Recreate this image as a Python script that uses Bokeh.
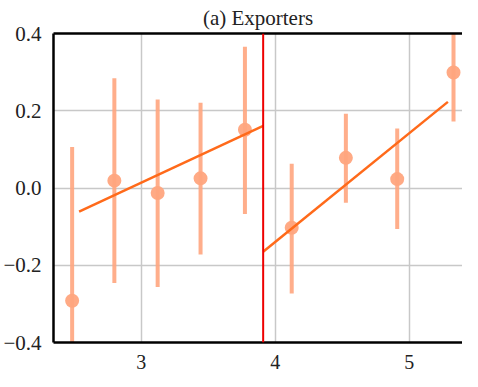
from bokeh.plotting import figure
from bokeh.models import (Range1d, FixedTicker, CustomJSTickFormatter, LinearAxis, Span)
from bokeh.embed import file_html
from bokeh.resources import INLINE

# ---- data ----
bin_x = [2.485, 2.80, 3.123, 3.443, 3.774, 4.123, 4.527, 4.91, 5.33]
est = [-0.292, 0.019, -0.013, 0.025, 0.151, -0.103, 0.078, 0.023, 0.299]
ci_lo = [-0.69, -0.246, -0.256, -0.172, -0.067, -0.273, -0.038, -0.106, 0.172]
ci_hi = [0.106, 0.284, 0.229, 0.221, 0.366, 0.063, 0.192, 0.154, 0.426]
fit_left_x = [2.537, 3.91]
fit_left_y = [-0.061, 0.161]
fit_right_x = [3.91, 5.288]
fit_right_y = [-0.165, 0.223]
cutoff = 3.91
x_ticks = [3, 4, 5]
y_ticks = [-0.4, -0.2, 0.0, 0.2, 0.4]
title_text = "(a) Exporters"

FONT = "'Liberation Serif', serif"
pt_color = "#FFA57E"
fit_color = "#FF6A1A"

p = figure(width=462, height=371, output_backend="svg", toolbar_location=None,
           x_range=Range1d(2.346, 5.397), y_range=Range1d(-0.4, 0.4),
           min_border_left=47, min_border_right=0, min_border_top=27, min_border_bottom=20)

p.title.text = title_text
p.title.align = "center"
p.title.text_font = FONT
p.title.text_font_size = "21px"
p.title.text_font_style = "normal"
p.title.text_color = "#222222"
p.title.standoff = 7

p.outline_line_color = None

p.segment(x0=bin_x, y0=ci_lo, x1=bin_x, y1=ci_hi, line_color=pt_color,
          line_width=4, line_alpha=0.9)
p.scatter(x=bin_x, y=est, size=14, fill_color=pt_color, line_color=None, fill_alpha=0.95)
p.line(fit_left_x, fit_left_y, line_color=fit_color, line_width=2.5)
p.line(fit_right_x, fit_right_y, line_color=fit_color, line_width=2.5)
p.add_layout(Span(location=cutoff, dimension="height", line_color="#EE0000", line_width=2))

for ax in [p.xaxis[0], p.yaxis[0]]:
    ax.axis_line_color = "black"
    ax.axis_line_width = 2.5
    ax.major_tick_line_color = None
    ax.minor_tick_line_color = None
    ax.major_label_text_font = FONT
    ax.major_label_text_font_size = "21px"
    ax.major_label_text_color = "#222222"
    ax.axis_label_standoff = 0

p.xaxis.major_label_text_font_size = "20px"
p.xaxis.ticker = FixedTicker(ticks=x_ticks)
p.yaxis.ticker = FixedTicker(ticks=y_ticks)
p.xaxis.major_label_standoff = 6
p.yaxis.major_label_standoff = 6
p.yaxis.formatter = CustomJSTickFormatter(
    code="var s = tick.toFixed(1); if (s == '-0.0') s = '0.0'; return s.replace('-', '\u2212');")

top = LinearAxis(ticker=FixedTicker(ticks=[]), axis_line_color="black", axis_line_width=2.5,
                 major_tick_line_color=None, minor_tick_line_color=None,
                 major_label_text_font_size="0px", major_label_standoff=0,
                 axis_label_standoff=0)
p.add_layout(top, "above")

p.xgrid.grid_line_color = "#C8C8C8"
p.ygrid.grid_line_color = "#C8C8C8"
p.xgrid.grid_line_width = 1.5
p.ygrid.grid_line_width = 1.5

open("out.html", "w").write(file_html(p, INLINE))
